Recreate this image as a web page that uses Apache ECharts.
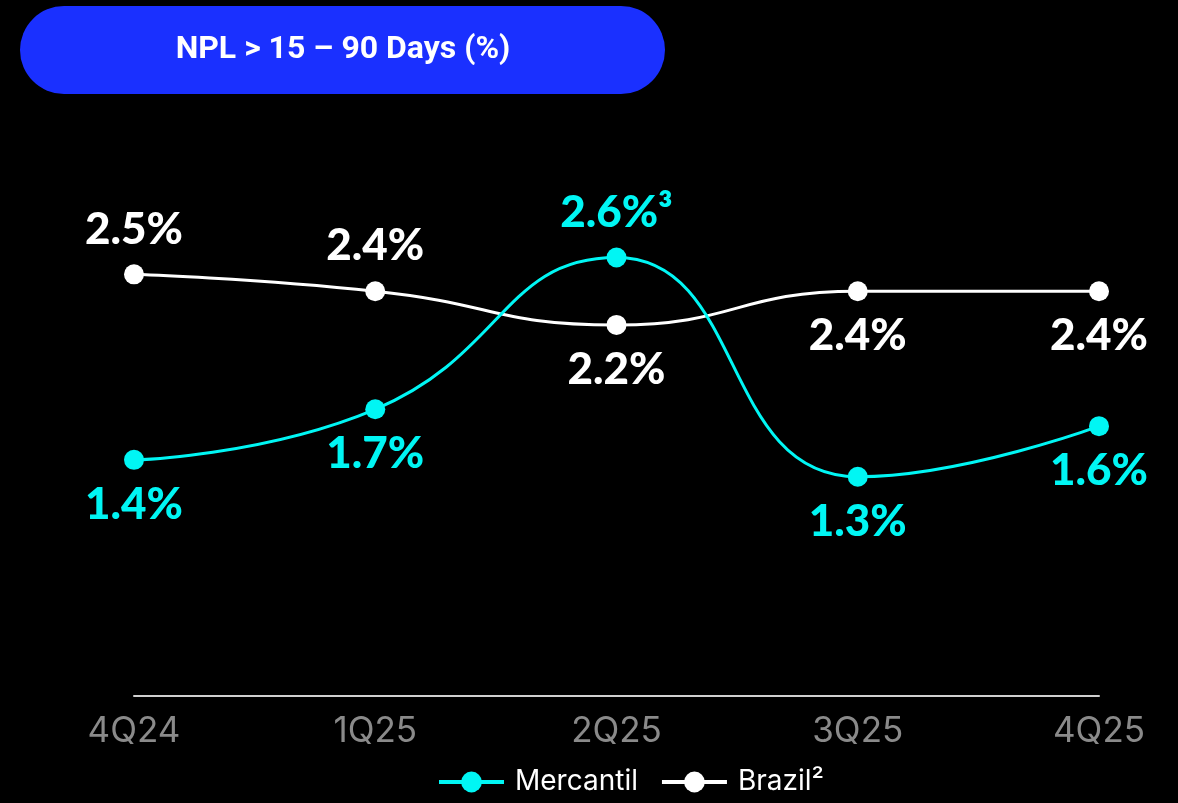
<!DOCTYPE html>
<html>
<head>
<meta charset="utf-8">
<script src="https://cdn.jsdelivr.net/npm/echarts@6/dist/echarts.min.js"></script>
<style>
  html, body { margin: 0; padding: 0; background: #000; }
  #chart { width: 1178px; height: 803px; }
</style>
</head>
<body>
<div id="chart"></div>
<script>
// Quarterly NPL 15–90 days ratio, in percent
const quarters = ['4Q24', '1Q25', '2Q25', '3Q25', '4Q25'];
const mercantil = [1.4, 1.7, 2.6, 1.3, 1.6];
const brazil = [2.5, 2.4, 2.2, 2.4, 2.4];
const mercantilNotes = ['', '', '³', '', ''];
const mercantilLabelPos = ['bottom', 'bottom', 'top', 'bottom', 'bottom'];
const brazilLabelPos = ['top', 'top', 'bottom', 'bottom', 'bottom'];

const CYAN = '#00f6f4';
const WHITE = '#ffffff';
const labelFont = 'Lato, "Noto Sans", sans-serif';

function pointData(values, positions, color, notes) {
  return values.map((v, i) => ({
    value: v,
    label: {
      show: true,
      position: positions[i],
      distance: 13,
      color: color,
      fontFamily: labelFont,
      fontWeight: 900,
      fontSize: 44,
      formatter: () => v.toFixed(1) + '%' + (notes ? notes[i] : '')
    }
  }));
}

const chart = echarts.init(document.getElementById('chart'), null, { renderer: 'canvas' });
chart.setOption({
  backgroundColor: '#000',
  animation: false,
  graphic: [
    {
      type: 'rect',
      left: 20, top: 6,
      shape: { width: 645, height: 88, r: 44 },
      style: { fill: '#1a30ff' }
    },
    {
      type: 'text',
      x: 343, y: 50,
      style: {
        text: 'NPL > 15 – 90 Days (%)',
        fill: '#fff',
        font: 'bold 32px Roboto, sans-serif',
        align: 'center',
        verticalAlign: 'middle'
      }
    }
  ],
  legend: {
    left: 432,
    bottom: 2,
    itemWidth: 65,
    itemHeight: 26,
    itemGap: 22,
    lineStyle: { width: 4 },
    textStyle: { color: '#fff', fontSize: 28, fontFamily: 'Inter, Roboto, sans-serif', padding: [0, 0, 0, 6] },
    data: ['Mercantil', 'Brazil²']
  },
  grid: { left: 134, right: 79, top: 190, bottom: 107 },
  xAxis: {
    type: 'category',
    data: quarters,
    boundaryGap: false,
    axisLine: { lineStyle: { color: '#cfcfcf', width: 2 } },
    axisTick: { show: false },
    axisLabel: { color: '#8a8a8a', fontSize: 35, fontFamily: 'Inter, Roboto, sans-serif', margin: 18 }
  },
  yAxis: {
    type: 'value',
    min: 0, max: 3,
    show: false,
    splitLine: { show: false }
  },
  series: [
    {
      name: 'Mercantil',
      type: 'line',
      smooth: 0.5,
      symbol: 'circle',
      symbolSize: 20,
      lineStyle: { color: CYAN, width: 3 },
      itemStyle: { color: CYAN },
      data: pointData(mercantil, mercantilLabelPos, CYAN, mercantilNotes),
      z: 3
    },
    {
      name: 'Brazil²',
      type: 'line',
      smooth: 0.5,
      symbol: 'circle',
      symbolSize: 20,
      lineStyle: { color: WHITE, width: 3 },
      itemStyle: { color: WHITE },
      data: pointData(brazil, brazilLabelPos, WHITE),
      z: 2
    }
  ]
});
</script>
</body>
</html>
